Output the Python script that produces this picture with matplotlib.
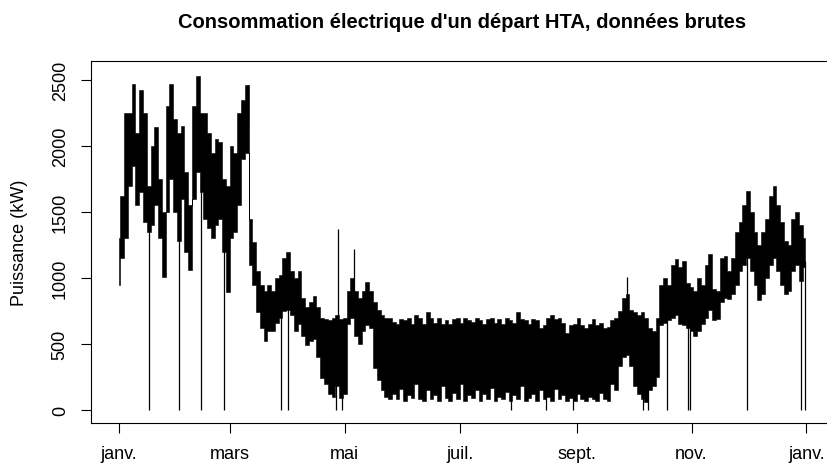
import numpy as np
import matplotlib
matplotlib.use("Agg")
import matplotlib.pyplot as plt

# ── Données (enveloppe tous les 2 jours) ───────────────────────────
jours = np.arange(0, 366, 2)          # jour de l'année (0 = 1er janvier)

puiss_max = [
    1300, 1620, 2250, 2250, 2470, 2100, 2420, 2250, 1700, 2000, 2140, 1750, 1500, 2300, 2470,
    2200, 2100, 2150, 1800, 1550, 2300, 2530, 2250, 2250, 2100, 1950, 2050, 2030, 1750, 1700,
    2000, 1950, 2250, 2350, 2460, 1450, 1270, 1050, 950, 900, 950, 900, 1000, 1020, 1150, 1200,
    1050, 1000, 1050, 850, 780, 820, 860, 780, 700, 690, 680, 700, 720, 690, 700,
    900, 1000, 900, 850, 900, 970, 900, 820, 760, 720, 700,
    700, 670, 650, 690, 680, 700, 650, 720, 700, 650, 740, 700, 660, 700, 650, 680, 650, 690,
    700, 660, 700, 680, 670, 700, 680, 650, 690, 700, 660, 690, 650, 700, 680, 660, 740, 690,
    680, 650, 690, 680, 620, 640, 700, 720, 690, 700, 660, 580, 640, 650, 700, 640, 620, 650,
    690, 640, 660, 620, 630, 680,
    700, 750, 850, 880, 760, 740, 720, 740, 700, 620, 600, 700, 950, 1000, 950, 1100, 1140,
    1080, 1130, 960, 930, 900, 1000, 950, 1100, 1180, 920, 900, 1150, 1170, 1050, 1150, 1350,
    1420, 1550, 1660, 1500, 1350, 1250, 1350, 1450, 1620, 1700, 1550, 1420, 1280, 1250, 1450,
    1500, 1400, 1300,
]

puiss_min = [
    950, 1150, 1300, 1700, 1850, 1550, 1650, 1420, 1350, 1400, 1550, 1300, 1010, 1500, 1750,
    1500, 1280, 1600, 1200, 1060, 1600, 1800, 1650, 1450, 1380, 1300, 1400, 1450, 1200, 890,
    1300, 1350, 1550, 1900, 1950, 1100, 950, 740, 620, 520, 600, 600, 660, 700, 750, 760,
    720, 600, 650, 560, 490, 520, 540, 400, 240, 200, 120, 100, 180, 90, 120,
    650, 700, 560, 500, 600, 640, 620, 320, 230, 150, 100,
    80, 120, 80, 160, 70, 110, 90, 200, 80, 70, 150, 80, 110, 70, 180, 90, 70, 130,
    80, 200, 70, 110, 90, 150, 70, 120, 80, 170, 70, 100, 80, 140, 70, 110, 80, 180,
    70, 90, 120, 70, 150, 80, 100, 70, 160, 80, 110, 70, 90, 70, 120, 80, 70, 100,
    80, 70, 130, 80, 70, 200,
    150, 330, 400, 420, 330, 180, 120, 80, 60, 150, 180, 250, 640, 660, 680, 700, 720,
    650, 640, 620, 600, 560, 600, 650, 700, 760, 680, 690, 820, 850, 840, 880, 950,
    1050, 1100, 1150, 1050, 950, 830, 880, 1000, 1100, 1150, 1050, 950, 880, 900, 1050,
    1100, 980, 1080,
]

# coupures (chutes à 0 kW) et pics isolés
coupures = [16.2, 32.1, 43.6, 56.2, 86.0, 90.0, 115.2, 118.8, 208.3, 226.6,
            240.9, 278.2, 280.9, 291.0, 302.0, 303.4, 333.4, 362.1, 364.1]
pics_jours = [116.7, 125.0, 270.0, 68.5]
pics_val = [1370, 1220, 1005, 2460]

mois_pos = [0, 59, 120, 181, 243, 304, 365]
mois_lab = ["janv.", "mars", "mai", "juil.", "sept.", "nov.", "janv."]
y_ticks = [0, 500, 1000, 1500, 2000, 2500]

plt.rcParams.update({
    "font.family": "Liberation Sans",
    "font.size": 13,
})

W, H = 827, 464
fig = plt.figure(figsize=(W / 100, H / 100), dpi=100)
ax = fig.add_axes([91 / W, (H - 424) / H, (834 - 91) / W, (424 - 62) / H])

# bande journalière min/max (tracé brut très dense)
ax.fill_between(jours, puiss_min, puiss_max, step="mid",
                color="black", linewidth=0.4, edgecolor="black")

bas = np.interp(coupures, jours, puiss_min)
ax.vlines(coupures, 0, bas + 50, color="black", linewidth=0.9)
ax.vlines(pics_jours, np.interp(pics_jours, jours, puiss_max) - 50, pics_val,
          color="black", linewidth=0.9)

ax.set_xlim(-14.6, 379.6)
ax.set_ylim(-98.5, 2643)

ax.set_xticks(mois_pos)
ax.set_xticklabels(mois_lab)
ax.set_yticks(y_ticks)
ax.set_yticklabels([str(v) for v in y_ticks], rotation=90, va="center")
ax.tick_params(direction="out", length=7, width=0.8, pad=9)
for s in ax.spines.values():
    s.set_linewidth(0.8)

fig.text(462.5 / W, 1 - 22 / H,
         "Consommation électrique d'un départ HTA, données brutes",
         ha="center", va="center", fontsize=14.5, fontweight="bold")
fig.text(20 / W, 1 - 243 / H, "Puissance (kW)", rotation=90,
         ha="center", va="center", fontsize=13)

fig.savefig("out.png", dpi=100)
